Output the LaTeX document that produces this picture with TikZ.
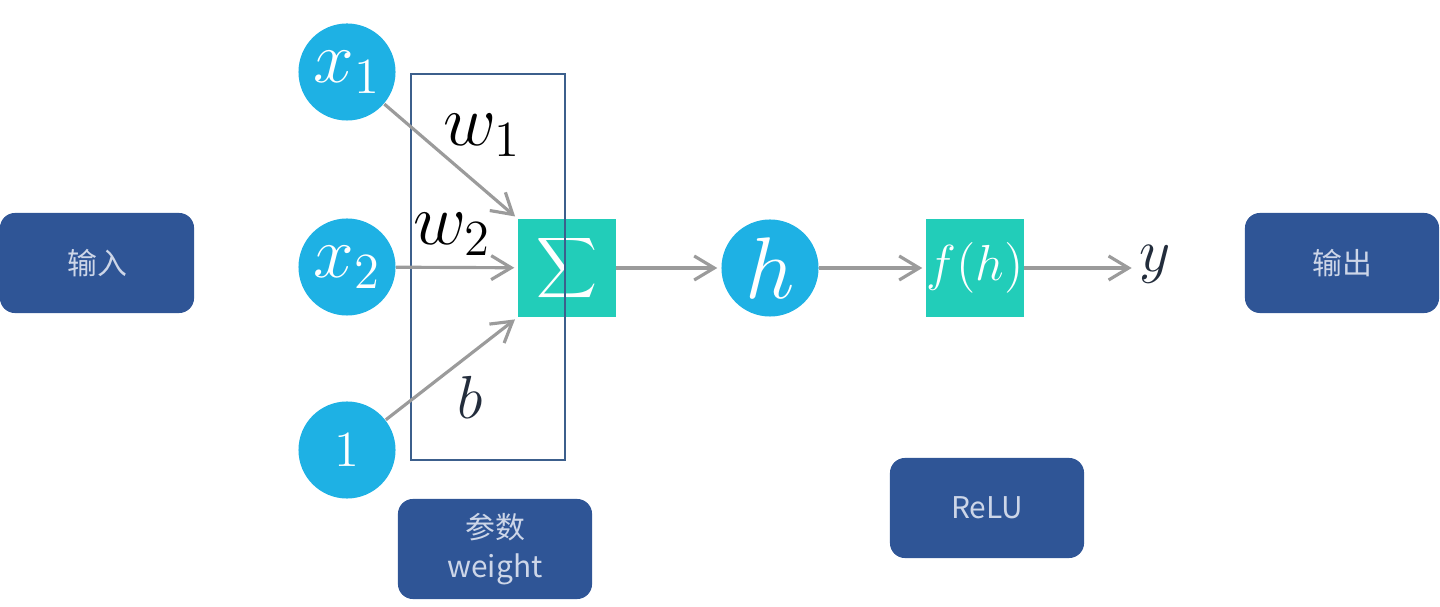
\documentclass[tikz,border=0pt]{standalone}
\usepackage{amsmath}
\usepackage{fontspec}
\newfontfamily\cjk{Noto Sans CJK SC}
\usetikzlibrary{arrows.meta, positioning}
\definecolor{nodeblue}{RGB}{30, 177, 228}
\definecolor{nodeteal}{RGB}{34, 205, 185}
\definecolor{tagblue}{RGB}{47, 85, 150}
\definecolor{tagtext}{RGB}{205, 214, 232}
\definecolor{framebl}{RGB}{60, 95, 140}
\definecolor{arrgray}{RGB}{155, 155, 155}
\definecolor{mathink}{RGB}{35, 45, 60}

\begin{document}
\begin{tikzpicture}[x=0.01cm, y=-0.01cm,
        neuron/.style={circle, fill=nodeblue, text=white, minimum size=0.97cm, inner sep=0pt},
        unit/.style={fill=nodeteal, text=white, minimum size=0.97cm, inner sep=0pt},
        tag/.style={fill=tagblue, text=tagtext, rounded corners=0.15cm, minimum width=1.94cm, minimum height=1cm, font=\cjk\fontsize{8.5}{10}\selectfont, align=center},
        arr/.style={-{Straight Barb[length=2mm, width=2.4mm]}, line width=0.9pt, arrgray, shorten >=1pt}
      ]
        \useasboundingbox (0,0) rectangle (1440,607);
        % inputs
        \node[neuron, font=\huge] (x1) at (347,72) {$x_1$};
        \node[neuron, font=\huge] (x2) at (347,267) {$x_2$};
        \node[neuron, font=\Large] (one) at (347,450) {$1$};
        % sum and activation
        \node[unit, font=\fontsize{13}{15}\selectfont] (sum) at (567,268) {$\displaystyle\sum$};
        \node[neuron, font=\Huge] (h) at (770,268) {$h$};
        \node[unit, font=\Large] (fh) at (975,268) {$f(h)$};
        \node[font=\LARGE, text=mathink, inner sep=1pt] (y) at (1155,264) {$y$};
        % weight frame
        \node[draw=framebl, line width=0.4pt, minimum width=1.54cm, minimum height=3.86cm, inner sep=0pt] (wbox) at (488,267) {};
        % weights
        \node[font=\huge] (w1) at (482,135) {$w_1$};
        \node[font=\huge] (w2) at (452,234) {$w_2$};
        \node[font=\LARGE, text=mathink] (b) at (470,397) {$b$};
        \draw[arr] (x1) -- (sum.north west);
        \draw[arr] (x2) -- (sum);
        \draw[arr] (one) -- (sum.south west);
        \draw[arr] (sum) -- (h);
        \draw[arr] (h) -- (fh);
        \draw[arr] (fh) -- (fh.east -| y.west);
        % tags
        \node[tag] (input) at (97,263) {输入};
        \node[tag] (output) at (1342,263) {输出};
        \node[tag] (relu) at (987,508) {ReLU};
        \node[tag, font=\cjk\fontsize{8.5}{11}\selectfont] (param) at (495,549) {参数\\weight};
      \end{tikzpicture}
\end{document}
